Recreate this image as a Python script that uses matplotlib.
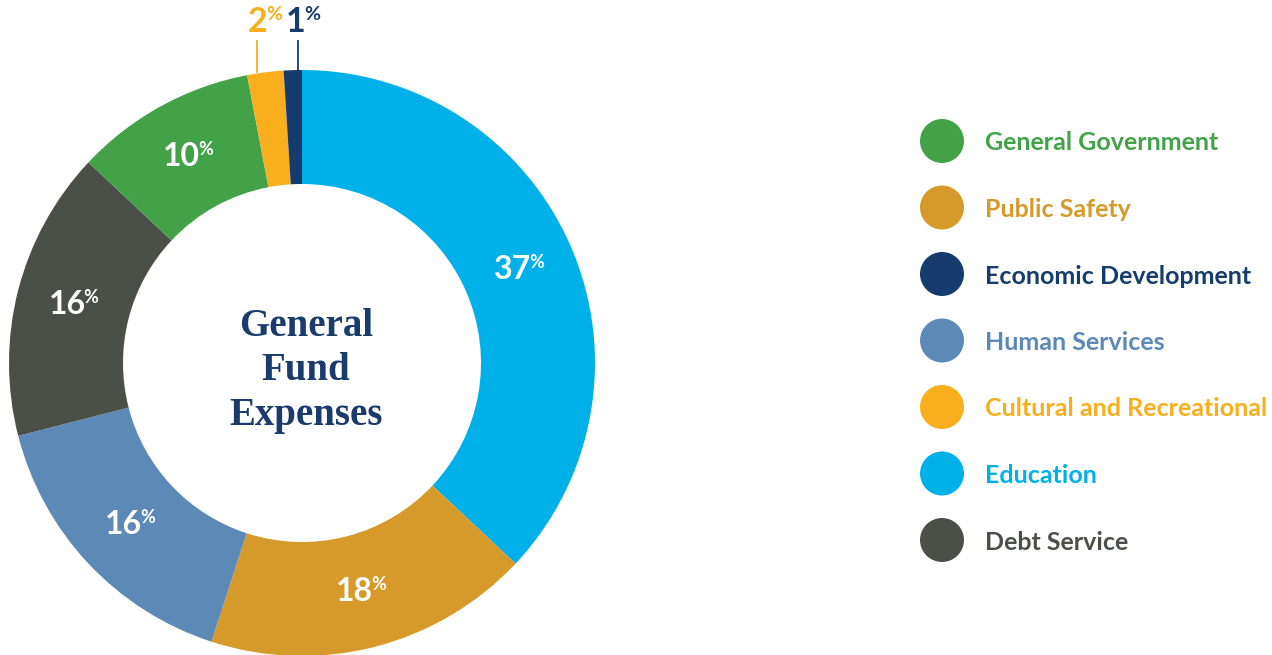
import matplotlib
matplotlib.use("Agg")
import matplotlib.pyplot as plt
import numpy as np

# ---- data (pie order, clockwise from 12 o'clock) ----
categories = ["Education", "Public Safety", "Human Services", "Debt Service",
              "General Government", "Cultural and Recreational", "Economic Development"]
values = [37, 18, 16, 16, 10, 2, 1]
colors = ["#00B1E9", "#D69A2A", "#5C89B5", "#4A4F48", "#43A148", "#F9AE1D", "#163B6D"]
legend_order = ["General Government", "Public Safety", "Economic Development",
                "Human Services", "Cultural and Recreational", "Education", "Debt Service"]
title_lines = ["General", "Fund", "Expenses"]
callout_cats = ["Cultural and Recreational", "Economic Development"]

W, H = 1272, 655
fig = plt.figure(figsize=(W / 100, H / 100), dpi=100)
ax = fig.add_axes([0, 0, 1, 1])

cx, cy = 302, H - 363
R, r_in = 293, 179
wedges, _ = ax.pie(values, colors=colors, startangle=90, counterclock=False,
                   radius=R, center=(cx, cy), frame=True,
                   wedgeprops=dict(width=R - r_in, edgecolor="none"))
ax.set_xlim(0, W)
ax.set_ylim(0, H)
ax.set_aspect("auto")
ax.axis("off")

fig.canvas.draw()
renderer = fig.canvas.get_renderer()

def pct_label(x, y, val, color, size=23, psize=13, center=True):
    t = ax.text(x, y, f"{val}", color=color, fontsize=size, fontweight="bold",
                family="Lato", ha="left", va="center")
    p = ax.text(x, y, "%", color=color, fontsize=psize, fontweight="bold",
                family="Lato", ha="left", va="center")
    bb1 = t.get_window_extent(renderer)
    bb2 = p.get_window_extent(renderer)
    total = bb1.width + bb2.width - 2
    x0 = x - total / 2 if center else x
    t.set_x(x0)
    p.set_x(x0 + bb1.width - 2)
    p.set_y(y + 7)

cum = 0
for cat, v, c in zip(categories, values, colors):
    mid = (cum + v / 2) / 100 * 360
    cum += v
    if cat in callout_cats:
        continue
    rm = (R + r_in) / 2
    lx = cx + rm * np.sin(np.radians(mid))
    ly = cy + rm * np.cos(np.radians(mid))
    pct_label(lx, ly, v, "white")

# callouts for small slices
callout_x = {"Cultural and Recreational": 257, "Economic Development": 298}
callout_shift = {"Cultural and Recreational": 8, "Economic Development": 5}
for cat in callout_cats:
    i = categories.index(cat)
    x = callout_x[cat]
    ax.plot([x, x], [H - 41, H - 72], color=colors[i], lw=1.3)
    pct_label(x + callout_shift[cat], H - 22, values[i], colors[i], size=24.5, psize=14)

# center title
for k, line in enumerate(title_lines):
    ax.text(cx + 4, H - (326 + k * 45), line, color="#1B3B6C", fontsize=28,
            fontweight="bold", family="Liberation Serif", ha="center", va="center")

# legend
ly0, dy = 141, 66.5
for k, name in enumerate(legend_order):
    c = colors[categories.index(name)]
    y = H - (ly0 + k * dy)
    ax.add_patch(plt.Circle((942, y), 22, color=c, lw=0))
    ax.text(985, y - 2, name, color=c, fontsize=18, fontweight="bold",
            family="Lato", ha="left", va="center")

fig.savefig("out.png", dpi=100)
